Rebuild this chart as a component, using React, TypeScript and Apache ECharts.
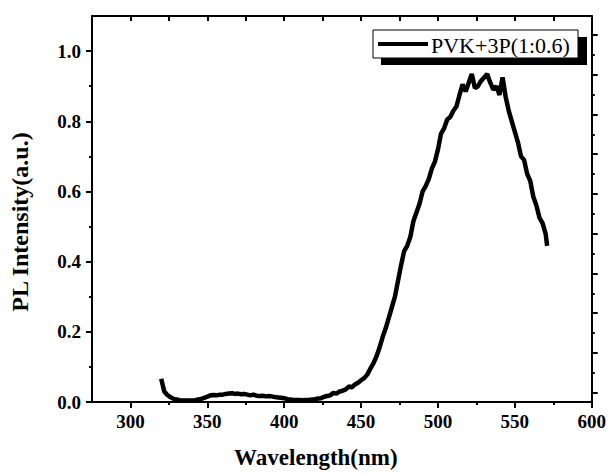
import React, { useEffect, useRef } from "react";
import * as echarts from "echarts";

const wavelength = [
  320, 322, 324, 326, 328, 330, 332, 334, 336, 338, 340, 342, 344, 346, 348, 350,
  352, 354, 356, 358, 360, 362, 364, 366, 368, 370, 372, 374, 376, 378, 380, 382,
  384, 386, 388, 390, 392, 394, 396, 398, 400, 402, 404, 406, 408, 410, 412, 414,
  416, 418, 420, 422, 424, 426, 428, 430, 432, 434, 436, 438, 440, 442, 444, 446,
  448, 450, 452, 454, 456, 458, 460, 462, 464, 466, 468, 470, 472, 474, 476, 478,
  480, 482, 484, 486, 488, 490, 492, 494, 496, 498, 500, 502, 504, 506, 508, 510,
  512, 514, 516, 518, 520, 522, 524, 526, 528, 530, 532, 534, 536, 538, 540, 542,
  544, 546, 548, 550, 552, 554, 556, 558, 560, 562, 564, 566, 568, 570, 571,
];

const intensity = [
  0.066, 0.03, 0.02, 0.014, 0.009, 0.007, 0.005, 0.004, 0.004, 0.004, 0.004, 0.005, 0.007, 0.009, 0.012, 0.015,
  0.019, 0.02, 0.019, 0.021, 0.021, 0.023, 0.024, 0.025, 0.023, 0.024, 0.022, 0.023, 0.021, 0.019, 0.021, 0.018,
  0.017, 0.018, 0.016, 0.017, 0.016, 0.014, 0.013, 0.012, 0.011, 0.008, 0.007, 0.006, 0.006, 0.006, 0.005, 0.006,
  0.006, 0.007, 0.008, 0.01, 0.011, 0.015, 0.017, 0.019, 0.026, 0.024, 0.03, 0.032, 0.036, 0.044, 0.042, 0.05,
  0.055, 0.062, 0.068, 0.078, 0.095, 0.11, 0.13, 0.155, 0.185, 0.21, 0.24, 0.27, 0.3, 0.345, 0.39, 0.43,
  0.445, 0.47, 0.515, 0.54, 0.565, 0.6, 0.615, 0.635, 0.665, 0.685, 0.72, 0.765, 0.78, 0.805, 0.812, 0.83,
  0.842, 0.875, 0.905, 0.885, 0.91, 0.935, 0.895, 0.9, 0.915, 0.925, 0.935, 0.91, 0.89, 0.9, 0.875, 0.925,
  0.87, 0.83, 0.8, 0.77, 0.74, 0.7, 0.69, 0.65, 0.63, 0.585, 0.56, 0.525, 0.51, 0.48, 0.445,
];

const xMajorTicks = [300, 350, 400, 450, 500, 550, 600];
const xMinorTicks = [325, 375, 425, 475, 525, 575];
const xTopTicks = [300, 325, 350, 375, 400, 425, 450, 475, 500, 525, 550, 575];
const yMajorTicks = [0, 0.2, 0.4, 0.6, 0.8, 1.0];
const yMinorTicks = [0.1, 0.3, 0.5, 0.7, 0.9];
const rightMajorTicks = [0, 1, 2, 3, 4, 5, 6, 7, 8, 9];
const rightMinorTicks = [0.5, 1.5, 2.5, 3.5, 4.5, 5.5, 6.5, 7.5, 8.5];

const seriesName = "PVK+3P(1:0.6)";
const xName = "Wavelength(nm)";
const yName = "PL Intensity(a.u.)";

const FONT = "'Liberation Serif', 'Times New Roman', serif";

export default function App() {
  const ref = useRef<HTMLDivElement>(null);

  useEffect(() => {
    document.body.style.margin = "0";
    if (!ref.current) return;
    const chart = echarts.init(ref.current, undefined, { renderer: "svg" });
    const lineStyle = { color: "#000", width: 2 };
    const hidden = { show: false };

    const option: any = {
      animation: false,
      backgroundColor: "#fff",
      grid: { left: 83, right: 14, top: 16, bottom: 69, containLabel: false },
      xAxis: [
        {
          type: "value",
          position: "bottom",
          min: 275,
          max: 600,
          axisLine: { show: true, onZero: false, lineStyle },
          axisTick: { show: true, customValues: xMajorTicks, length: 6, lineStyle },
          axisLabel: {
            customValues: xMajorTicks,
            margin: 10,
            color: "#000",
            fontFamily: FONT,
            fontWeight: "bold",
            fontSize: 19,
          },
          splitLine: hidden,
          name: xName,
          nameLocation: "middle",
          nameGap: 44,
          nameTextStyle: {
            color: "#000",
            fontFamily: FONT,
            fontWeight: "bold",
            fontSize: 23,
            padding: [0, 52, 0, 0],
          },
        },
        {
          type: "value",
          position: "bottom",
          min: 275,
          max: 600,
          axisLine: { show: false, onZero: false },
          axisTick: { show: true, customValues: xMinorTicks, length: 3, lineStyle },
          axisLabel: hidden,
          splitLine: hidden,
        },
        {
          type: "value",
          position: "top",
          min: 275,
          max: 600,
          axisLine: { show: true, onZero: false, lineStyle },
          axisTick: { show: true, inside: true, customValues: xTopTicks, length: 5, lineStyle },
          axisLabel: hidden,
          splitLine: hidden,
        },
      ],
      yAxis: [
        {
          type: "value",
          position: "left",
          min: 0,
          max: 1.1,
          axisLine: { show: true, onZero: false, lineStyle },
          axisTick: { show: true, customValues: yMajorTicks, length: 6, lineStyle },
          axisLabel: {
            customValues: yMajorTicks,
            formatter: (v: number) => v.toFixed(1),
            margin: 11,
            color: "#000",
            fontFamily: FONT,
            fontWeight: "bold",
            fontSize: 19,
          },
          splitLine: hidden,
          name: yName,
          nameLocation: "middle",
          nameGap: 60,
          nameRotate: 90,
          nameTextStyle: {
            color: "#000",
            fontFamily: FONT,
            fontWeight: "bold",
            fontSize: 24,
            padding: [0, 26, 0, 0],
          },
        },
        {
          type: "value",
          position: "left",
          min: 0,
          max: 1.1,
          axisLine: { show: false, onZero: false },
          axisTick: { show: true, customValues: yMinorTicks, length: 3, lineStyle },
          axisLabel: hidden,
          splitLine: hidden,
        },
        {
          type: "value",
          position: "right",
          min: -0.237,
          max: 9.478,
          axisLine: { show: true, onZero: false, lineStyle },
          axisTick: { show: true, customValues: rightMajorTicks, length: 6, lineStyle },
          axisLabel: hidden,
          splitLine: hidden,
        },
        {
          type: "value",
          position: "right",
          min: -0.237,
          max: 9.478,
          axisLine: { show: false, onZero: false },
          axisTick: { show: true, customValues: rightMinorTicks, length: 3, lineStyle },
          axisLabel: hidden,
          splitLine: hidden,
        },
      ],
      series: [
        {
          name: seriesName,
          type: "line",
          xAxisIndex: 0,
          yAxisIndex: 0,
          showSymbol: false,
          symbol: "none",
          lineStyle: { color: "#000", width: 4.5 },
          itemStyle: { color: "#000" },
          data: wavelength.map((w, i) => [w, intensity[i]]),
        },
      ],
      graphic: [
        {
          type: "rect",
          shape: { x: 381, y: 37, width: 206, height: 28 },
          style: { fill: "#000" },
          z: 100,
        },
        {
          type: "rect",
          shape: { x: 373, y: 30, width: 205, height: 28 },
          style: { fill: "#fff", stroke: "#000", lineWidth: 1 },
          z: 101,
        },
        {
          type: "line",
          shape: { x1: 378, y1: 44, x2: 428, y2: 44 },
          style: { stroke: "#000", lineWidth: 4 },
          z: 102,
        },
        {
          type: "text",
          x: 431,
          y: 45,
          style: {
            text: seriesName,
            fill: "#000",
            font: `22px ${FONT}`,
            verticalAlign: "middle",
          },
          z: 102,
        },
      ],
    };

    chart.setOption(option);
    return () => chart.dispose();
  }, []);

  return <div ref={ref} style={{ width: 609, height: 474 }} />;
}
